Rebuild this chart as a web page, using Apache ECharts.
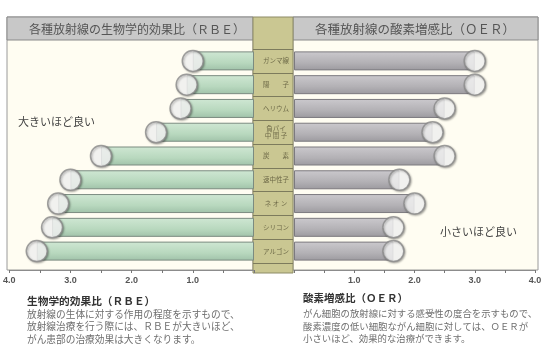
<!DOCTYPE html>
<html><head><meta charset="utf-8">
<script src="https://cdn.jsdelivr.net/npm/echarts@6/dist/echarts.min.js"></script>
<style>html,body{margin:0;padding:0;background:#fff}#c{width:550px;height:351px}</style>
</head><body><div id="c"></div>
<script>
const categories = ['ガンマ線','陽　　子','ヘリウム','負パイ\n中 間 子','炭　　素','速中性子','ネ オ ン','シリコン','アルゴン'];
const rbeValues = [1.0, 1.1, 1.2, 1.6, 2.5, 3.0, 3.2, 3.3, 3.55];
const oerValues = [3.0, 3.0, 2.5, 2.3, 2.5, 1.75, 2.0, 1.65, 1.65];
const axisMin = 0, axisMax = 4, axisStep = 0.5;
const leftHeader = '各種放射線の生物学的効果比（ＲＢＥ）';
const rightHeader = '各種放射線の酸素増感比（ＯＥＲ）';
const leftNote = '大きいほど良い';
const rightNote = '小さいほど良い';
const rbeTitle = '生物学的効果比（ＲＢＥ）';
const rbeLines = ['放射線の生体に対する作用の程度を示すもので、','放射線治療を行う際には、ＲＢＥが大きいほど、','がん患部の治療効果は大きくなります。'];
const oerTitle = '酸素増感比（ＯＥＲ）';
const oerLines = ['がん細胞の放射線に対する感受性の度合を示すもので、','酸素濃度の低い細胞ながん細胞に対しては、ＯＥＲが','小さいほど、効果的な治療ができます。'];

const FONT = '"Noto Sans CJK JP", "Noto Sans", sans-serif';
const chart = echarts.init(document.getElementById('c'));

function fmt(v){ return (v > 0 && Math.abs(v % 1) < 1e-9) ? v.toFixed(1) : ''; }
const xAxisBase = {
  type: 'value', min: axisMin, max: axisMax, interval: axisStep,
  offset: 7,
  axisLine: {show: true, lineStyle: {color: '#8c8c8c', width: 1}},
  axisTick: {show: true, length: 3, lineStyle: {color: '#777'}},
  splitLine: {show: false},
  axisLabel: {formatter: fmt, fontSize: 9, fontWeight: 'bold', color: '#555', margin: 6, fontFamily: 'Liberation Sans, sans-serif'}
};
const catAxis = {type: 'category', data: categories, inverse: true, axisLine: {show: false}, axisTick: {show: false}, splitLine: {show: false}};

const txt = (x, y, text, size, color, weight, align) => ({
  type: 'text', x: x, y: y, z: 5,
  style: {text: text, fill: color, font: (weight || 'normal') + ' ' + size + 'px ' + FONT, textAlign: align || 'left', textVerticalAlign: 'middle'}
});

const graphics = [
  {type: 'rect', z: -10, shape: {x: 7, y: 17, width: 246, height: 253}, style: {fill: '#fffdf2', stroke: '#9a9a9a', lineWidth: 1}},
  {type: 'rect', z: -10, shape: {x: 293, y: 17, width: 245, height: 253}, style: {fill: '#fffdf2', stroke: '#9a9a9a', lineWidth: 1}},
  {type: 'rect', z: -9, shape: {x: 7, y: 17, width: 246, height: 23}, style: {fill: '#c8c8c8', stroke: '#8a8a8a', lineWidth: 1}},
  {type: 'rect', z: -9, shape: {x: 293, y: 17, width: 245, height: 23}, style: {fill: '#c8c8c8', stroke: '#8a8a8a', lineWidth: 1}},
  {type: 'rect', z: -9, shape: {x: 253, y: 17, width: 40, height: 256}, style: {fill: '#cac792', stroke: '#8d8b66', lineWidth: 1}},
  txt(137, 29, leftHeader, 12, '#555', 'normal', 'center'),
  txt(415, 29, rightHeader, 12.5, '#555', 'normal', 'center'),
  txt(18, 122, leftNote, 11, '#444'),
  txt(440, 232, rightNote, 11, '#444'),
  txt(27, 301, rbeTitle, 10.7, '#333', 'bold'),
  txt(303, 298, oerTitle, 10.5, '#333', 'bold')
];
const lineY = [314, 326, 339];
rbeLines.forEach((l, i) => graphics.push(txt(27, lineY[i], l, 9.7, '#6e6e6e')));
const lineY2 = [313, 326, 338];
oerLines.forEach((l, i) => graphics.push(txt(303, lineY2[i], l, 9.4, '#6e6e6e')));

const greenGrad = new echarts.graphic.LinearGradient(0, 0, 0, 1, [{offset: 0, color: '#cfe7d3'}, {offset: 0.6, color: '#b8d8be'}, {offset: 1, color: '#a0c2a9'}]);
const grayGrad = new echarts.graphic.LinearGradient(0, 0, 0, 1, [{offset: 0, color: '#cbc9cd'}, {offset: 0.6, color: '#b3b1b5'}, {offset: 1, color: '#9c9a9f'}]);
const circleStyle = {color: '#ffffff', borderColor: '#8a8a8a', borderWidth: 1.5, shadowBlur: 2, shadowColor: 'rgba(0,0,0,0.35)', shadowOffsetX: 1, shadowOffsetY: 1};

chart.setOption({
  animation: false,
  backgroundColor: '#ffffff',
  textStyle: {fontFamily: FONT},
  graphic: graphics,
  grid: [
    {left: 6, right: 296, top: 49, bottom: 88},
    {left: 294, right: 15, top: 49, bottom: 88},
    {left: 253, right: 257, top: 49, bottom: 88}
  ],
  xAxis: [
    Object.assign({}, xAxisBase, {gridIndex: 0, inverse: true}),
    Object.assign({}, xAxisBase, {gridIndex: 1}),
    {type: 'value', gridIndex: 2, show: false, min: 0, max: 1}
  ],
  yAxis: [
    Object.assign({}, catAxis, {gridIndex: 0, axisLabel: {show: false}}),
    Object.assign({}, catAxis, {gridIndex: 1, position: 'left', axisLabel: {show: true, align: 'center', margin: 18, fontSize: 6.5, lineHeight: 7, color: '#6e6a48', fontFamily: FONT}}),
    Object.assign({}, catAxis, {gridIndex: 2, axisLabel: {show: false}, splitLine: {show: true, lineStyle: {color: '#7d7b5c', width: 1}}})
  ],
  series: [
    {type: 'bar', xAxisIndex: 0, yAxisIndex: 0, data: rbeValues, barWidth: 19, itemStyle: {color: greenGrad, borderColor: '#7b8b80', borderWidth: 1}, z: 2},
    {type: 'scatter', xAxisIndex: 0, yAxisIndex: 0, data: rbeValues, symbolSize: 21, itemStyle: circleStyle, z: 4},
    {type: 'bar', xAxisIndex: 1, yAxisIndex: 1, data: oerValues, barWidth: 19, itemStyle: {color: grayGrad, borderColor: '#7c7a7f', borderWidth: 1}, z: 2},
    {type: 'scatter', xAxisIndex: 1, yAxisIndex: 1, data: oerValues, symbolSize: 21, itemStyle: circleStyle, z: 4}
  ]
});
</script></body></html>
